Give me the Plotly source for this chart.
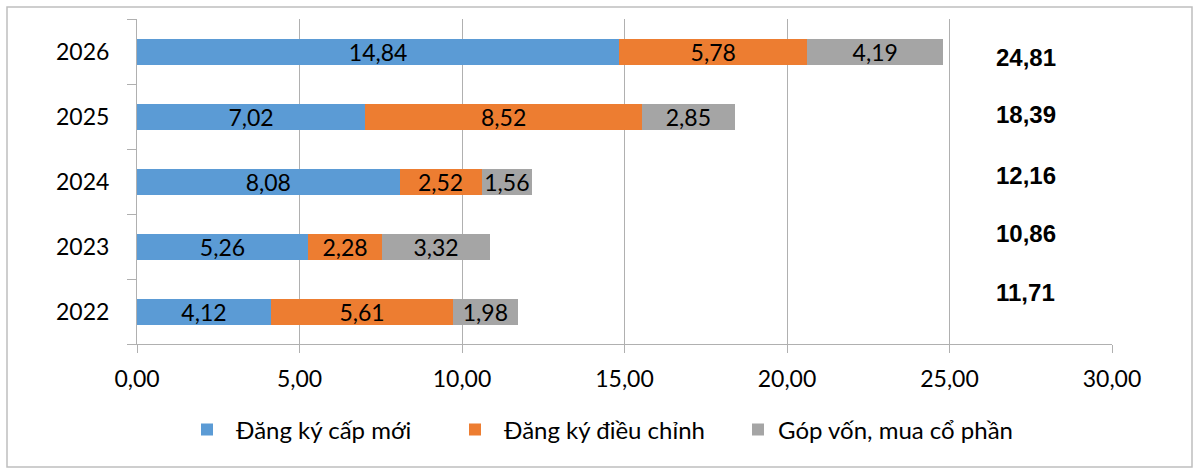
import plotly.graph_objects as go

years = ["2022", "2023", "2024", "2025", "2026"]
dang_ky_cap_moi = [4.12, 5.26, 8.08, 7.02, 14.84]
dang_ky_dieu_chinh = [5.61, 2.28, 2.52, 8.52, 5.78]
gop_von = [1.98, 3.32, 1.56, 2.85, 4.19]
totals = [11.71, 10.86, 12.16, 18.39, 24.81]
x_ticks = [0, 5, 10, 15, 20, 25, 30]

series = [
    ("Đăng ký cấp mới", dang_ky_cap_moi, "#5B9BD5"),
    ("Đăng ký điều chỉnh", dang_ky_dieu_chinh, "#ED7D31"),
    ("Góp vốn, mua cổ phần", gop_von, "#A5A5A5"),
]

W, H = 1200, 474
L, R, T, B = 137, 88, 19, 130
pw, ph = W - L - R, H - T - B

def vn(v):
    return f"{v:.2f}".replace(".", ",")

legend_ids = ["legend", "legend2", "legend3"]
legend_left_px = [178, 446, 738]
legend_itemw = [48, 48, 30]

fig = go.Figure()
for (name, vals, color), lid in zip(series, legend_ids):
    fig.add_trace(go.Bar(
        y=years, x=vals, name=name, orientation="h", legend=lid,
        marker=dict(color=color, line=dict(width=0)),
        text=[vn(v) for v in vals], textposition="inside",
        insidetextanchor="middle", constraintext="none",
        textfont=dict(family="Lato, sans-serif", size=23, color="black"),
        hoverinfo="skip",
    ))

total_shift = [19, 13, 6, 2, -6]
for i, (t, s) in enumerate(zip(totals, total_shift)):
    fig.add_annotation(x=27.35, y=i, xref="x", yref="y", text=f"<b>{vn(t)}</b>",
                       showarrow=False, yshift=s,
                       font=dict(family="Liberation Sans, Arial", size=24, color="black"))

fig.add_shape(type="rect", xref="paper", yref="paper",
              x0=(7 - L) / pw, x1=(1192 - L) / pw,
              y0=(H - B - 467) / ph, y1=(H - B - 7) / ph,
              line=dict(color="#BFBFBF", width=1.5))

legend_y = (H - B - 430) / ph
layout_legends = {}
for lid, lx, iw in zip(legend_ids, legend_left_px, legend_itemw):
    layout_legends[lid] = dict(
        orientation="h", x=(lx - L) / pw, xanchor="left", y=legend_y, yanchor="middle",
        font=dict(family="Lato, sans-serif", size=24, color="black"),
        itemwidth=iw, bgcolor="rgba(0,0,0,0)",
    )

fig.update_layout(
    width=W, height=H, barmode="stack", bargap=0.6,
    separators=",.", uniformtext=dict(mode=False),
    margin=dict(l=L, r=R, t=T, b=B),
    plot_bgcolor="white", paper_bgcolor="white",
    font=dict(family="Lato, sans-serif", size=23, color="black"),
    xaxis=dict(range=[0, 30], tickvals=x_ticks, tickformat=".2f",
               showgrid=True, gridcolor="#B0B0B0", gridwidth=1,
               showline=True, linecolor="#B0B0B0", linewidth=1,
               ticks="outside", ticklen=8, tickcolor="#B0B0B0",
               ticklabelstandoff=6,
               zeroline=False, tickfont=dict(size=23)),
    yaxis=dict(type="category", categoryorder="array", categoryarray=years,
               range=[-0.5, len(years) - 0.5],
               showline=True, linecolor="#B0B0B0", linewidth=1,
               ticks="outside", ticklen=9, tickcolor="#B0B0B0",
               tickson="boundaries", showgrid=False,
               ticklabelstandoff=22,
               tickfont=dict(size=23)),
    showlegend=True,
    **layout_legends,
)

fig.write_html("out.html")
